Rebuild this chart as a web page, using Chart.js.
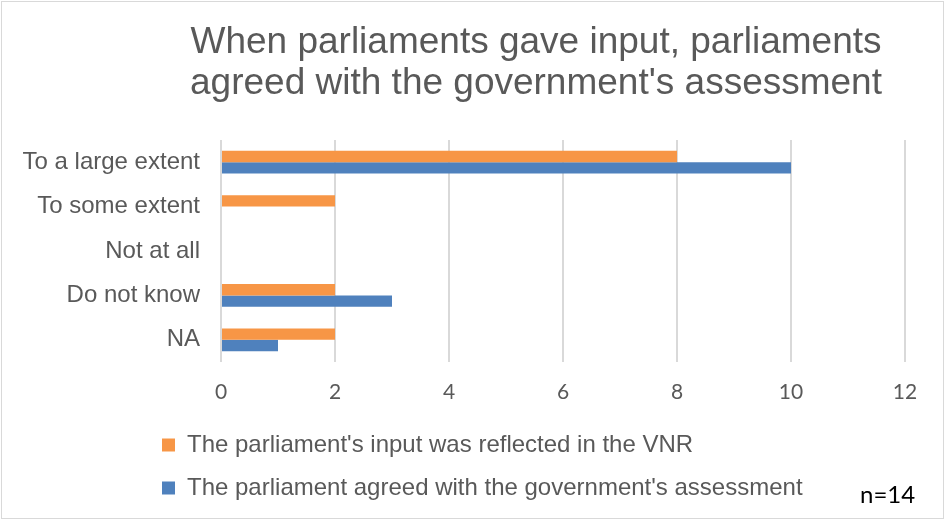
<!DOCTYPE html>
<html>
<head>
<meta charset="utf-8">
<title>Parliamentary input and the government's assessment</title>
<script src="https://cdn.jsdelivr.net/npm/chart.js@4.4.0/dist/chart.umd.min.js"></script>
<style>
  html, body { margin: 0; padding: 0; background: #ffffff; }
  #wrap { position: relative; width: 945px; height: 520px; }
</style>
</head>
<body>
<div id="wrap"><canvas id="chart" width="945" height="520"></canvas></div>
<script>
// Survey answers, one entry per category
const categories = ['To a large extent', 'To some extent', 'Not at all', 'Do not know', 'NA'];
const reflectedInVNR = [8, 2, 0, 2, 2];
const agreedWithGovernment = [10, 0, 0, 3, 1];
const seriesNames = [
  "The parliament's input was reflected in the VNR",
  "The parliament agreed with the government's assessment"
];
const xTickValues = [0, 2, 4, 6, 8, 10, 12];
const titleLines = [
  'When parliaments gave input, parliaments',
  "agreed with the government's assessment"
];
const sampleNote = 'n=14';

const ORANGE = '#f79646';
const BLUE = '#4f81bd';
const TEXT_GREY = '#595959';
const GRID_GREY = '#d9d9d9';

// White backdrop, thin frame, two-line heading and the sample-size note
const framePlugin = {
  id: 'frame',
  afterLayout(chart) {
    // legend rows start under the category labels rather than at the canvas edge
    const lg = chart.legend;
    if (lg) {
      lg.left = 143;
      lg.right = 143 + 762;
    }
  },
  beforeDraw(chart) {
    const ctx = chart.ctx;
    ctx.save();
    ctx.fillStyle = '#ffffff';
    ctx.fillRect(0, 0, chart.width, chart.height);
    ctx.restore();
  },
  afterDraw(chart) {
    const ctx = chart.ctx;
    ctx.save();
    ctx.strokeStyle = GRID_GREY;
    ctx.lineWidth = 1;
    ctx.strokeRect(1.5, 1.5, chart.width - 3, chart.height - 3);

    ctx.fillStyle = TEXT_GREY;
    ctx.font = '37px "Liberation Sans", Arial, sans-serif';
    ctx.textAlign = 'center';
    ctx.textBaseline = 'alphabetic';
    titleLines.forEach((line, i) => ctx.fillText(line, 536, 53 + i * 41));

    ctx.fillStyle = '#000000';
    ctx.font = '24px Lato, "Open Sans", sans-serif';
    ctx.textAlign = 'left';
    ctx.fillText(sampleNote, 860, 503);
    ctx.restore();
  }
};

new Chart(document.getElementById('chart'), {
  type: 'bar',
  data: {
    labels: categories,
    datasets: [
      {
        label: seriesNames[0],
        data: reflectedInVNR,
        backgroundColor: ORANGE,
        borderWidth: 0,
        categoryPercentage: 0.514,
        barPercentage: 1.0
      },
      {
        label: seriesNames[1],
        data: agreedWithGovernment,
        backgroundColor: BLUE,
        borderWidth: 0,
        categoryPercentage: 0.514,
        barPercentage: 1.0
      }
    ]
  },
  options: {
    indexAxis: 'y',
    responsive: false,
    animation: false,
    devicePixelRatio: 1,
    layout: {
      padding: { top: 140, right: 40, bottom: 10, left: 0 }
    },
    scales: {
      x: {
        min: 0,
        max: 12,
        afterBuildTicks(scale) {
          scale.ticks = xTickValues.map(v => ({ value: v }));
        },
        afterFit(scale) { scale.height = 52; },
        grid: { color: GRID_GREY, lineWidth: 2, drawTicks: false },
        border: { display: false },
        ticks: {
          padding: 18,
          color: TEXT_GREY,
          font: { family: 'Lato, "Open Sans", sans-serif', size: 21 }
        }
      },
      y: {
        afterFit(scale) { scale.width = 221; },
        grid: { display: false, drawTicks: false },
        border: { display: false },
        ticks: {
          padding: 21,
          color: TEXT_GREY,
          font: { family: '"Liberation Sans", Arial, sans-serif', size: 24 }
        }
      }
    },
    plugins: {
      title: { display: false },
      tooltip: { enabled: false },
      legend: {
        display: true,
        position: 'bottom',
        align: 'start',
        labels: {
          boxWidth: 13,
          boxHeight: 13,
          padding: 19,
          color: TEXT_GREY,
          font: { family: '"Liberation Sans", Arial, sans-serif', size: 24 }
        }
      }
    }
  },
  plugins: [framePlugin]
});
</script>
</body>
</html>
